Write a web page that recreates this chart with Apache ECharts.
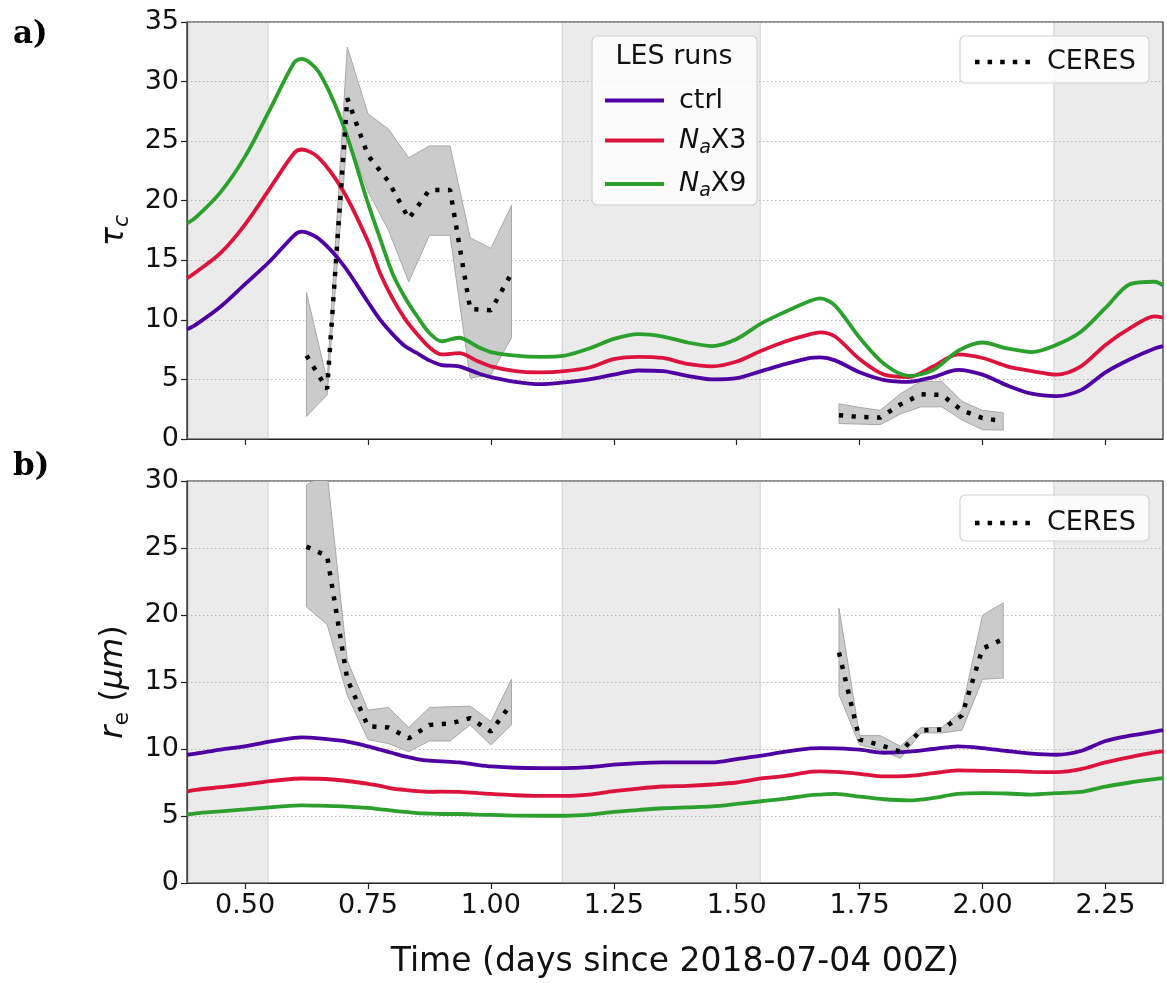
<!DOCTYPE html>
<html>
<head>
<meta charset="utf-8">
<script src="https://cdn.jsdelivr.net/npm/echarts@6/dist/echarts.min.js"></script>
<style>
html,body{margin:0;padding:0;background:#fff;}
#chart{width:1167px;height:983px;}
</style>
</head>
<body>
<div id="chart"></div>
<script>
// ---------------- DATA ----------------
const xTicks = [0.5, 0.75, 1.0, 1.25, 1.5, 1.75, 2.0, 2.25];
const xMin = 0.382, xMax = 2.367;
const nightStart = [0.382, 1.145, 2.145];
const nightEnd   = [0.547, 1.548, 2.367];

// LES time axis (days since 2018-07-04 00Z)
const tLES = [0.382,0.40,0.45,0.50,0.55,0.60,0.615,0.65,0.70,0.75,0.775,0.80,0.825,0.85,0.875,0.90,0.935,0.975,1.00,1.05,1.10,1.15,1.20,1.25,1.30,1.35,1.40,1.45,1.50,1.55,1.60,1.65,1.67,1.70,1.75,1.80,1.85,1.90,1.95,2.00,2.05,2.10,2.15,2.20,2.25,2.30,2.35,2.367];

// panel a: cloud optical depth tau_c
const tauCtrl = [9.2,9.6,11.1,13.0,14.9,17.1,17.4,16.8,14.6,11.5,10.0,8.8,7.8,7.2,6.6,6.2,6.1,5.5,5.2,4.8,4.6,4.75,5.0,5.4,5.75,5.7,5.3,5.0,5.1,5.7,6.3,6.8,6.85,6.6,5.6,4.95,4.8,5.2,5.8,5.4,4.5,3.8,3.6,4.1,5.6,6.7,7.6,7.8];
const tauX3   = [13.5,14.0,15.6,18.0,21.0,24.0,24.3,23.6,20.8,16.6,13.9,11.8,10.1,8.8,7.7,7.1,7.2,6.5,6.1,5.7,5.6,5.7,6.0,6.7,6.9,6.8,6.3,6.1,6.5,7.4,8.2,8.8,8.95,8.6,6.7,5.4,5.2,6.1,7.1,6.8,6.1,5.7,5.4,6.1,7.9,9.3,10.3,10.2];
const tauX9   = [18.1,18.6,20.7,23.7,27.6,31.6,31.9,30.8,26.3,19.8,16.8,13.9,11.9,10.3,8.9,8.2,8.5,7.7,7.3,7.0,6.9,7.0,7.6,8.4,8.8,8.6,8.1,7.8,8.4,9.7,10.7,11.6,11.8,11.2,8.5,6.3,5.3,5.8,7.4,8.1,7.6,7.3,7.9,9.0,11.0,13.0,13.2,12.9];

// panel b: effective radius r_e (um)
const reCtrl = [9.57,9.65,9.95,10.2,10.55,10.83,10.87,10.8,10.6,10.2,9.95,9.7,9.45,9.25,9.13,9.08,9.0,8.8,8.7,8.6,8.58,8.58,8.65,8.83,8.95,9.0,9.0,9.0,9.25,9.5,9.8,10.05,10.07,10.05,9.95,9.72,9.8,10.0,10.2,10.07,9.85,9.65,9.57,9.85,10.6,11.0,11.3,11.4];
const reX3   = [6.84,6.95,7.15,7.35,7.6,7.78,7.8,7.78,7.65,7.4,7.25,7.05,6.95,6.85,6.8,6.82,6.8,6.7,6.65,6.55,6.5,6.5,6.6,6.85,7.05,7.2,7.25,7.35,7.5,7.8,8.0,8.3,8.33,8.3,8.15,7.95,8.0,8.2,8.4,8.37,8.35,8.3,8.28,8.5,9.0,9.4,9.75,9.82];
const reX9   = [5.1,5.2,5.35,5.5,5.65,5.78,5.8,5.78,5.72,5.6,5.5,5.4,5.3,5.22,5.18,5.15,5.15,5.1,5.08,5.03,5.02,5.02,5.1,5.3,5.45,5.58,5.65,5.72,5.9,6.1,6.3,6.55,6.6,6.65,6.45,6.25,6.17,6.35,6.65,6.7,6.68,6.6,6.7,6.8,7.2,7.5,7.75,7.83];

// CERES retrievals (hourly), two overpass windows
const tCer1 = [0.625,0.667,0.708,0.750,0.792,0.833,0.875,0.917,0.958,1.000,1.042];
const tCer2 = [1.708,1.750,1.792,1.833,1.875,1.917,1.958,2.000,2.042];

const cerTau1   = [7.0,4.2,28.6,23.8,21.6,18.5,20.9,20.9,10.9,10.8,13.9];
const cerTauLo1 = [1.9,3.7,25.5,20.8,17.5,13.2,17.1,17.1,5.1,5.4,8.5];
const cerTauHi1 = [12.3,4.9,32.9,27.3,26.0,23.6,24.6,24.6,16.9,16.0,19.6];
const cerTau2   = [2.0,1.85,1.8,2.9,3.75,3.7,2.4,1.75,1.5];
const cerTauLo2 = [1.3,1.25,1.2,2.1,2.7,2.7,1.6,0.78,0.75];
const cerTauHi2 = [2.95,2.65,2.4,3.8,4.84,4.84,3.16,2.4,2.2];

const cerRe1   = [25.1,24.4,15.2,11.7,11.6,10.8,11.8,11.9,12.3,11.3,13.4];
const cerReLo1 = [20.6,19.3,14.0,10.7,10.4,9.8,10.6,10.6,11.8,10.3,11.8];
const cerReHi1 = [29.7,30.6,16.6,12.9,13.1,11.6,13.1,13.15,13.2,12.06,15.2];
const cerRe2   = [17.2,10.7,10.3,9.8,11.4,11.45,12.5,17.5,18.2];
const cerReLo2 = [14.05,10.3,9.95,9.3,11.2,11.2,11.4,15.2,15.3];
const cerReHi2 = [20.5,11.0,11.0,10.2,11.6,11.6,12.9,20.0,20.9];

// ---------------- STYLE ----------------
const FONT = 'DejaVu Sans';
const C_CTRL = '#4f00a3', C_X3 = '#dc143c', C_X9 = '#2ca02c';
const pairs = (t, v) => t.map((x, i) => [x, v[i]]);
const DOTS_ICON = 'path://M0,0h4.5v4.5h-4.5z M12.6,0h4.5v4.5h-4.5z M25.2,0h4.5v4.5h-4.5z M37.8,0h4.5v4.5h-4.5z M50.4,0h4.5v4.5h-4.5z';

function lesLine(name, color, t, v, gi) {
  return {
    type: 'line', name: name, xAxisIndex: gi, yAxisIndex: gi,
    data: pairs(t, v), showSymbol: false, symbol: 'none',
    smooth: 0.3,
    lineStyle: { color: color, width: 3.8 }, itemStyle: { color: color },
    z: 4, silent: true
  };
}
function ceresLine(t, v, gi) {
  return {
    type: 'line', name: 'CERES', xAxisIndex: gi, yAxisIndex: gi,
    data: pairs(t, v), showSymbol: false, symbol: 'none',
    lineStyle: { color: '#000', width: 4.5, type: [4.2, 8.5], cap: 'butt' },
    itemStyle: { color: '#000' }, z: 5, silent: true
  };
}
function ceresBand(t, lo, hi, gi) {
  return {
    type: 'custom', xAxisIndex: gi, yAxisIndex: gi, clip: true, silent: true, z: 3,
    data: t.map((x, i) => [x, lo[i], hi[i]]),
    encode: { x: 0, y: [1, 2] },
    renderItem: function (params, api) {
      if (params.dataIndex !== 0) return null;
      const pts = [];
      for (let i = 0; i < t.length; i++) pts.push(api.coord([t[i], hi[i]]));
      for (let i = t.length - 1; i >= 0; i--) pts.push(api.coord([t[i], lo[i]]));
      return { type: 'polygon', shape: { points: pts },
               style: { fill: '#cbcbcb', stroke: '#a8a8a8', lineWidth: 1 } };
    }
  };
}
function nightArea(gi) {
  return {
    type: 'line', xAxisIndex: gi, yAxisIndex: gi, data: [], silent: true, z: 1,
    markArea: {
      silent: true,
      itemStyle: { color: 'rgba(120,120,120,0.15)', borderColor: 'rgba(150,150,150,0.35)', borderWidth: 1 },
      data: nightStart.map((s, i) => [{ xAxis: s }, { xAxis: nightEnd[i] }])
    }
  };
}

const axisLineStyle = { show: true, lineStyle: { color: '#222', width: 1.2 } };
const tickStyle = { show: true, inside: false, length: 6, lineStyle: { color: '#222', width: 1.2 } };
function xAxisCfg(gi, showLabels) {
  return {
    type: 'value', gridIndex: gi, min: xMin, max: xMax,
    axisLine: Object.assign({ onZero: false }, axisLineStyle),
    axisTick: Object.assign({ customValues: xTicks }, tickStyle),
    axisLabel: { show: showLabels, customValues: xTicks, formatter: v => v.toFixed(2),
                 fontFamily: FONT, fontSize: 27, color: '#111', margin: 9 },
    splitLine: { show: false },
    name: showLabels ? 'Time (days since 2018-07-04 00Z)' : '',
    nameLocation: 'middle', nameGap: 63,
    nameTextStyle: { fontFamily: FONT, fontSize: 33, color: '#111' }
  };
}
function yAxisCfg(gi, max, name, rich, gap) {
  return {
    type: 'value', gridIndex: gi, min: 0, max: max, interval: 5,
    axisLine: axisLineStyle, axisTick: tickStyle,
    axisLabel: { fontFamily: FONT, fontSize: 27, color: '#111', margin: 8 },
    splitLine: { show: true, lineStyle: { color: '#bdbdbd', width: 1, type: [1.5, 2.5] } },
    name: name, nameLocation: 'middle', nameGap: gap,
    nameTextStyle: { fontFamily: FONT, color: '#111', rich: rich }
  };
}

const tauRich = {
  t: { fontFamily: FONT, fontSize: 32, fontStyle: 'italic', lineHeight: 38, verticalAlign: 'middle', color: '#111' },
  s: { fontFamily: FONT, fontSize: 22, fontStyle: 'italic', lineHeight: 22, verticalAlign: 'bottom', color: '#111' }
};
const reRich = {
  t: { fontFamily: FONT, fontSize: 32, fontStyle: 'italic', lineHeight: 38, verticalAlign: 'middle', color: '#111' },
  s: { fontFamily: FONT, fontSize: 22, lineHeight: 22, verticalAlign: 'bottom', color: '#111' },
  n: { fontFamily: FONT, fontSize: 32, lineHeight: 38, verticalAlign: 'middle', color: '#111' }
};
const legRich = {
  i: { fontFamily: FONT, fontSize: 27, fontStyle: 'italic', lineHeight: 34, verticalAlign: 'middle', color: '#111' },
  s: { fontFamily: FONT, fontSize: 19, fontStyle: 'italic', lineHeight: 19, verticalAlign: 'bottom', color: '#111' },
  n: { fontFamily: FONT, fontSize: 27, lineHeight: 34, verticalAlign: 'middle', color: '#111' }
};
const legNames = { ctrl: '{n|ctrl}', NaX3: '{i|N}{s|a}{n|X3}', NaX9: '{i|N}{s|a}{n|X9}' };

const gridA = { left: 187, top: 22, width: 976, height: 417 };
const gridB = { left: 187, top: 481, width: 976, height: 402 };

function ceresLegend(top) {
  return { data: [{ name: 'CERES', icon: DOTS_ICON }], left: 970, top: top, itemWidth: 55, itemHeight: 4.5,
    z: 20, selectedMode: false, itemStyle: { color: '#000' },
    textStyle: { fontFamily: FONT, fontSize: 27, color: '#111', padding: [0, 0, 0, 12], lineHeight: 30 } };
}

const option = {
  animation: false,
  backgroundColor: '#fff',
  grid: [
    Object.assign({ show: true, borderColor: '#222', borderWidth: 1.2, backgroundColor: 'transparent' }, gridA),
    Object.assign({ show: true, borderColor: '#222', borderWidth: 1.2, backgroundColor: 'transparent' }, gridB)
  ],
  xAxis: [xAxisCfg(0, false), xAxisCfg(1, true)],
  yAxis: [
    yAxisCfg(0, 35, '{t|τ}{s|c}', tauRich, 52),
    yAxisCfg(1, 30, '{t|r}{s|e}{n| (}{t|μm}{n|)}', reRich, 54)
  ],
  legend: [
    { data: ['ctrl', 'NaX3', 'NaX9'].map(n => ({ name: n, icon: 'rect' })), orient: 'vertical', left: 600, top: 82,
      itemWidth: 59, itemHeight: 4, itemGap: 13, z: 20, selectedMode: false,
      formatter: n => legNames[n],
      textStyle: { fontFamily: FONT, fontSize: 27, color: '#111', padding: [0, 0, 0, 10], rich: legRich } },
    ceresLegend(42),
    ceresLegend(503)
  ],
  graphic: [
    { type: 'rect', z: 15, shape: { x: 592, y: 36, width: 165, height: 169, r: 5 },
      style: { fill: 'rgba(255,255,255,0.8)', stroke: '#d2d2d2', lineWidth: 1.2 } },
    { type: 'text', z: 16, x: 674, y: 57,
      style: { text: 'LES runs', font: '27px "DejaVu Sans"', fill: '#111', align: 'center', verticalAlign: 'middle' } },
    { type: 'rect', z: 15, shape: { x: 960, y: 36, width: 189, height: 47, r: 5 },
      style: { fill: 'rgba(255,255,255,0.8)', stroke: '#d2d2d2', lineWidth: 1.2 } },
    { type: 'rect', z: 15, shape: { x: 960, y: 495, width: 189, height: 46, r: 5 },
      style: { fill: 'rgba(255,255,255,0.8)', stroke: '#d2d2d2', lineWidth: 1.2 } },
    { type: 'text', z: 16, x: 13, y: 19,
      style: { text: 'a)', font: 'bold 31px "DejaVu Serif"', fill: '#000' } },
    { type: 'text', z: 16, x: 13, y: 451,
      style: { text: 'b)', font: 'bold 31px "DejaVu Serif"', fill: '#000' } }
  ],
  series: [
    nightArea(0),
    nightArea(1),
    ceresBand(tCer1, cerTauLo1, cerTauHi1, 0),
    ceresBand(tCer2, cerTauLo2, cerTauHi2, 0),
    ceresBand(tCer1, cerReLo1, cerReHi1, 1),
    ceresBand(tCer2, cerReLo2, cerReHi2, 1),
    lesLine('ctrl', C_CTRL, tLES, tauCtrl, 0),
    lesLine('NaX3', C_X3, tLES, tauX3, 0),
    lesLine('NaX9', C_X9, tLES, tauX9, 0),
    lesLine('ctrl', C_CTRL, tLES, reCtrl, 1),
    lesLine('NaX3', C_X3, tLES, reX3, 1),
    lesLine('NaX9', C_X9, tLES, reX9, 1),
    ceresLine(tCer1, cerTau1, 0),
    ceresLine(tCer2, cerTau2, 0),
    ceresLine(tCer1, cerRe1, 1),
    ceresLine(tCer2, cerRe2, 1)
  ]
};

const chart = echarts.init(document.getElementById('chart'), null, { renderer: 'canvas' });
chart.setOption(option);
</script>
</body>
</html>
